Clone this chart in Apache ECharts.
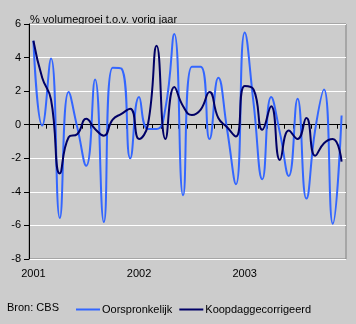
<!DOCTYPE html>
<html>
<head>
<meta charset="utf-8">
<script src="https://cdn.jsdelivr.net/npm/echarts@6/dist/echarts.min.js"></script>
<style>
html,body{margin:0;padding:0;background:#cccccc;}
#c{width:356px;height:324px;}
</style>
</head>
<body>
<div id="c"></div>
<script>
const years = ['2001', '2002', '2003'];
const months = [];
years.forEach(y => { for (let m = 1; m <= 12; m++) months.push(y + '-' + (m < 10 ? '0' + m : m)); });

const oorspronkelijk = [
  5.0, -0.05, 3.95, -5.55, 1.95, -0.2, -2.45, 2.7, -5.8, 3.4, 3.35, -2.0,
  1.65, -0.25, -0.25, 1.0, 5.4, -4.2, 3.45, 3.45, -0.85, 2.8, -0.3, -3.55,
  5.5, 1.3, -3.25, 1.65, -0.5, -3.05, 1.55, -4.4, -0.3, 2.1, -5.9, 0.55
];
const koopdaggecorrigeerd = [
  5.0, 2.8, 1.5, -2.9, -0.75, -0.55, 0.35, -0.25, -0.65, 0.3, 0.65, 0.95,
  -0.85, 0.0, 4.7, -0.85, 2.25, 1.1, 0.58, 0.9, 1.95, 0.4, -0.15, -0.7,
  2.3, 2.1, -0.3, 1.1, -2.1, -0.35, -0.85, 0.4, -1.85, -1.1, -0.85, -2.2
];
const yTicks = { min: -8, max: 6, interval: 2 };
const titleText = '% volumegroei t.o.v. vorig jaar';
const sourceText = 'Bron: CBS';
const seriesNames = ['Oorspronkelijk', 'Koopdaggecorrigeerd'];

const font = 'Liberation Sans, Arial, sans-serif';
const chart = echarts.init(document.getElementById('c'), null, { renderer: 'canvas' });
chart.setOption({
  backgroundColor: '#cccccc',
  animation: false,
  textStyle: { fontFamily: font },
  grid: { left: 29, right: 10, top: 24, bottom: 65, show: true, borderColor: '#808080', borderWidth: 1, backgroundColor: 'transparent' },
  graphic: [
    { type: 'text', left: 30, top: 14, style: { text: titleText, font: '11px ' + font, fill: '#000' } },
    { type: 'text', left: 7, top: 302, style: { text: sourceText, font: '11px ' + font, fill: '#000' } }
  ],
  legend: {
    left: 71, top: 299, itemWidth: 24, itemHeight: 2, itemGap: 7, icon: 'rect',
    textStyle: { fontSize: 11, color: '#000', fontFamily: font, padding: [0, 0, 0, -3] },
    data: seriesNames
  },
  xAxis: {
    type: 'category', data: months, boundaryGap: true,
    axisLine: { lineStyle: { color: '#000', width: 1 } },
    axisTick: { show: true, interval: 0, length: 4, lineStyle: { color: '#000' } },
    axisLabel: {
      interval: 0, margin: 9, fontSize: 11, color: '#000', fontFamily: font,
      formatter: (v, i) => (i % 12 === 0 ? v.slice(0, 4) : '')
    },
    splitLine: { show: false }
  },
  yAxis: {
    type: 'value', min: yTicks.min, max: yTicks.max, interval: yTicks.interval,
    axisLine: { show: true, lineStyle: { color: '#000', width: 1 } },
    axisTick: { show: true, length: 5, lineStyle: { color: '#000' } },
    axisLabel: { fontSize: 11, color: '#000', margin: 8, fontFamily: font },
    splitLine: { show: true, lineStyle: { color: '#ffffff', width: 1 } }
  },
  series: [
    { name: seriesNames[0], type: 'line', data: oorspronkelijk, smooth: 0.5, symbol: 'none',
      itemStyle: { color: '#3366ff' }, lineStyle: { color: '#3366ff', width: 2 } },
    { name: seriesNames[1], type: 'line', data: koopdaggecorrigeerd, smooth: 0.5, symbol: 'none',
      itemStyle: { color: '#000066' }, lineStyle: { color: '#000066', width: 2 } }
  ]
});
</script>
</body>
</html>
